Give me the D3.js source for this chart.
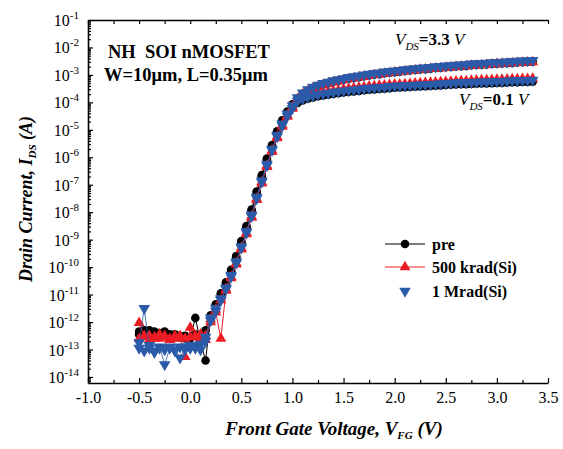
<!DOCTYPE html>
<html>
<head>
<meta charset="utf-8">
<script src="https://cdn.jsdelivr.net/npm/d3@7"></script>
<style>
  body { margin: 0; background: #fff; }
</style>
</head>
<body>
<div id="chart"></div>
<script>
// gate sweep (V)
var vg = [-0.5,-0.45,-0.4,-0.35,-0.3,-0.25,-0.2,-0.15,-0.1,-0.05,
  0.0,0.05,0.1,0.15,0.2,0.25,0.3,0.35,0.4,0.45,
  0.5,0.55,0.6,0.65,0.7,0.75,0.8,0.85,0.9,0.95,
  1.0,1.05,1.1,1.15,1.2,1.25,1.3,1.35,1.4,1.45,
  1.5,1.55,1.6,1.65,1.7,1.75,1.8,1.85,1.9,1.95,
  2.0,2.05,2.1,2.15,2.2,2.25,2.3,2.35,2.4,2.45,
  2.5,2.55,2.6,2.65,2.7,2.75,2.8,2.85,2.9,2.95,
  3.0,3.05,3.1,3.15,3.2,3.25,3.3,3.35];

// log10 of drain current (A), Lin = VDS 0.1 V, Sat = VDS 3.3 V
var preLin = [-12.35,-12.5,-12.3,-12.45,-12.4,-12.35,-12.5,-12.45,-12.55,-12.5,
  -12.6,-11.85,-12.7,-13.4,-11.8,-11.4,-11.0,-10.6,-10.15,-9.65,
  -9.1,-8.55,-7.95,-7.3,-6.7,-6.1,-5.6,-5.1,-4.72,-4.4,
  -4.15,-4.02,-3.93,-3.87,-3.82,-3.78,-3.75,-3.72,-3.69,-3.67,
  -3.64,-3.62,-3.60,-3.58,-3.56,-3.54,-3.53,-3.51,-3.50,-3.48,
  -3.47,-3.46,-3.45,-3.44,-3.43,-3.42,-3.41,-3.40,-3.39,-3.38,
  -3.37,-3.36,-3.35,-3.34,-3.34,-3.33,-3.32,-3.31,-3.31,-3.30,
  -3.29,-3.29,-3.28,-3.27,-3.27,-3.26,-3.26,-3.25];
var preSat = [-12.45,-12.3,-12.4,-12.35,-12.5,-12.4,-12.45,-12.55,-12.5,-12.6,
  -12.55,-12.45,-12.6,-12.3,-11.75,-11.35,-10.95,-10.55,-10.1,-9.6,
  -9.05,-8.5,-7.9,-7.25,-6.65,-6.05,-5.55,-5.05,-4.65,-4.33,
  -4.07,-3.87,-3.69,-3.57,-3.48,-3.41,-3.35,-3.30,-3.25,-3.21,
  -3.17,-3.14,-3.11,-3.08,-3.05,-3.02,-2.99,-2.97,-2.94,-2.92,
  -2.90,-2.88,-2.86,-2.84,-2.82,-2.80,-2.79,-2.77,-2.75,-2.74,
  -2.72,-2.71,-2.69,-2.68,-2.67,-2.65,-2.64,-2.63,-2.62,-2.60,
  -2.59,-2.58,-2.57,-2.56,-2.55,-2.54,-2.53,-2.52];
var k500Lin = [-12.03,-12.55,-12.5,-12.6,-12.45,-12.55,-12.6,-12.5,-12.55,-13.27,
  -12.2,-12.55,-12.6,-12.65,-12.0,-11.65,-12.6,-10.85,-10.4,-9.9,
  -9.35,-8.8,-8.2,-7.55,-6.95,-6.35,-5.8,-5.3,-4.88,-4.52,
  -4.23,-3.89,-3.81,-3.75,-3.70,-3.66,-3.63,-3.60,-3.57,-3.55,
  -3.52,-3.50,-3.48,-3.46,-3.44,-3.42,-3.41,-3.39,-3.38,-3.36,
  -3.35,-3.34,-3.33,-3.32,-3.31,-3.30,-3.29,-3.28,-3.27,-3.26,
  -3.25,-3.24,-3.23,-3.22,-3.22,-3.21,-3.20,-3.19,-3.19,-3.18,
  -3.17,-3.17,-3.16,-3.15,-3.15,-3.14,-3.14,-3.13];
var k500Sat = [-12.6,-12.5,-12.65,-12.55,-12.6,-12.5,-12.65,-12.6,-12.5,-12.6,
  -12.55,-12.5,-12.45,-12.5,-11.9,-11.55,-11.2,-10.8,-10.35,-9.85,
  -9.3,-8.75,-8.15,-7.5,-6.9,-6.3,-5.75,-5.25,-4.83,-4.47,
  -4.17,-3.89,-3.71,-3.59,-3.50,-3.43,-3.37,-3.32,-3.27,-3.23,
  -3.19,-3.15,-3.12,-3.09,-3.06,-3.03,-3.00,-2.98,-2.95,-2.93,
  -2.91,-2.89,-2.87,-2.85,-2.83,-2.81,-2.80,-2.78,-2.76,-2.75,
  -2.73,-2.72,-2.70,-2.69,-2.68,-2.66,-2.65,-2.64,-2.63,-2.61,
  -2.60,-2.59,-2.58,-2.57,-2.56,-2.55,-2.54,-2.53];
var m1Lin = [-12.75,-11.5,-12.95,-13.05,-12.9,-13.55,-12.95,-13.0,-13.3,-12.9,
  -12.95,-12.85,-13.0,-12.7,-11.95,-11.6,-11.2,-10.8,-10.35,-9.85,
  -9.3,-8.75,-8.15,-7.5,-6.9,-6.3,-5.75,-5.25,-4.85,-4.5,
  -4.22,-3.95,-3.87,-3.81,-3.76,-3.72,-3.69,-3.66,-3.63,-3.61,
  -3.58,-3.56,-3.54,-3.52,-3.50,-3.48,-3.47,-3.45,-3.44,-3.42,
  -3.41,-3.40,-3.39,-3.38,-3.37,-3.36,-3.35,-3.34,-3.33,-3.32,
  -3.31,-3.30,-3.29,-3.28,-3.28,-3.27,-3.26,-3.25,-3.25,-3.24,
  -3.23,-3.23,-3.22,-3.21,-3.21,-3.20,-3.20,-3.19];
var m1Sat = [-12.95,-13.05,-12.85,-13.1,-12.95,-13.0,-12.9,-13.05,-12.9,-13.0,
  -12.85,-12.95,-12.8,-12.55,-11.85,-11.5,-11.15,-10.75,-10.3,-9.8,
  -9.25,-8.7,-8.1,-7.45,-6.85,-6.25,-5.7,-5.2,-4.78,-4.42,
  -4.12,-3.83,-3.65,-3.53,-3.44,-3.37,-3.31,-3.26,-3.21,-3.17,
  -3.13,-3.09,-3.06,-3.03,-3.00,-2.97,-2.94,-2.92,-2.89,-2.87,
  -2.85,-2.83,-2.81,-2.79,-2.77,-2.75,-2.74,-2.72,-2.70,-2.69,
  -2.67,-2.66,-2.64,-2.63,-2.62,-2.60,-2.59,-2.58,-2.57,-2.55,
  -2.54,-2.53,-2.52,-2.51,-2.50,-2.49,-2.48,-2.47];

var xTicks = [-1.0,-0.5,0.0,0.5,1.0,1.5,2.0,2.5,3.0,3.5];
var xMinor = [-0.75,-0.25,0.25,0.75,1.25,1.75,2.25,2.75,3.25];
var yDecades = [-14,-13,-12,-11,-10,-9,-8,-7,-6,-5,-4,-3,-2,-1];

var legendNames = ["pre", "500 krad(Si)", "1 Mrad(Si)"];
var colors = ["#000000", "#ec1c24", "#2b5aa8"];
var FONT = "'Liberation Serif', 'Times New Roman', Times, 'DejaVu Serif', serif";

var W = 563, H = 449;
var svg = d3.select("#chart").append("svg")
  .attr("width", W).attr("height", H);

var x = d3.scaleLinear().domain([-1, 3.5]).range([88, 548]);
var y = d3.scaleLog().domain([Math.pow(10, -14.22), 0.1]).range([383, 20]);

var series = [
  {lin: preLin, sat: preSat, c: 0, sym: "circle"},
  {lin: k500Lin, sat: k500Sat, c: 1, sym: "up"},
  {lin: m1Lin, sat: m1Sat, c: 2, sym: "down"}
];

function marker(g, s, px, py) {
  if (s.sym == "circle") {
    g.append("circle").attr("cx", px).attr("cy", py).attr("r", 4.3)
      .attr("fill", colors[s.c]);
  } else {
    var rot = s.sym == "down" ? 180 : 0;
    g.append("path")
      .attr("d", d3.symbol().type(d3.symbolTriangle).size(s.sym == "down" ? 58 : 52)())
      .attr("transform", "translate(" + px + "," + py + ") rotate(" + rot + ")")
      .attr("fill", colors[s.c]);
  }
}

var line = d3.line()
  .x(function(d) { return x(d[0]); })
  .y(function(d) { return y(Math.pow(10, d[1])); });

var plot = svg.append("g");
series.forEach(function(s) {
  [s.lin, s.sat].forEach(function(arr) {
    var pts = vg.map(function(v, i) { return [v, arr[i]]; });
    plot.append("path").attr("d", line(pts))
      .attr("fill", "none").attr("stroke", colors[s.c])
      .attr("stroke-width", s.c == 2 ? 0.8 : 1);
    var mg = plot.append("g");
    pts.forEach(function(p) {
      marker(mg, s, x(p[0]), y(Math.pow(10, p[1])));
    });
  });
});

// axes
function styleAxis(g) {
  g.select(".domain").attr("stroke", "#000").attr("stroke-width", 1.6);
  g.selectAll(".tick line").attr("stroke", "#000").attr("stroke-width", 1.2);
}

var xAxis = svg.append("g").attr("transform", "translate(0,383)")
  .call(d3.axisBottom(x).tickValues(xTicks).tickSize(-5).tickSizeOuter(0)
    .tickPadding(9).tickFormat(function(d) { return d.toFixed(1); }));
styleAxis(xAxis);
xAxis.attr("font-family", null);
xAxis.selectAll("text").attr("font-size", 16).attr("fill", "#000");

var xAxisMinor = svg.append("g").attr("transform", "translate(0,383)")
  .call(d3.axisBottom(x).tickValues(xMinor).tickSize(-3).tickFormat(""));
xAxisMinor.select(".domain").remove();
styleAxis(xAxisMinor);

var topAxis = svg.append("g").attr("transform", "translate(0,20)")
  .call(d3.axisTop(x).tickValues(xTicks.concat(xMinor)).tickSize(-4)
    .tickSizeOuter(0).tickFormat(""));
styleAxis(topAxis);

var yAxis = svg.append("g").attr("transform", "translate(88,0)")
  .call(d3.axisLeft(y).tickValues(yDecades.map(function(k) { return Math.pow(10, k); }))
    .tickSize(-5).tickSizeOuter(0).tickFormat(""));
styleAxis(yAxis);

var yMinorVals = [];
for (var k = -15; k <= -2; k++) {
  for (var m = 2; m <= 9; m++) {
    var v = m * Math.pow(10, k);
    if (v > y.domain()[0] && v < y.domain()[1]) yMinorVals.push(v);
  }
}
var yAxisMinor = svg.append("g").attr("transform", "translate(88,0)")
  .call(d3.axisLeft(y).tickValues(yMinorVals).tickSize(-3).tickFormat(""));
yAxisMinor.select(".domain").remove();
styleAxis(yAxisMinor);

yDecades.forEach(function(k) {
  var t = svg.append("text")
    .attr("x", 79).attr("y", y(Math.pow(10, k)) + 6)
    .attr("text-anchor", "end").attr("font-size", 16);
  t.append("tspan").text("10");
  t.append("tspan").attr("dy", -7).attr("font-size", 11).text(String(k));
});

// axis titles
var yt = svg.append("text")
  .attr("transform", "translate(32,199) rotate(-90)")
  .attr("text-anchor", "middle").attr("font-size", 18)
  .attr("font-weight", "bold").attr("font-style", "italic");
yt.append("tspan").text("Drain Current, I");
yt.append("tspan").attr("font-size", 11).attr("dy", 4).text("DS");
yt.append("tspan").attr("dy", -4).text(" (A)");

var xt = svg.append("text")
  .attr("x", 334).attr("y", 435)
  .attr("text-anchor", "middle").attr("font-size", 19)
  .attr("font-weight", "bold").attr("font-style", "italic");
xt.append("tspan").text("Front Gate Voltage, V");
xt.append("tspan").attr("font-size", 11).attr("dy", 4).text("FG");
xt.append("tspan").attr("dy", -4).text(" (V)");

// device annotation
svg.append("text").attr("x", 108).attr("y", 58)
  .attr("font-size", 18.5).attr("font-weight", "bold")
  .attr("xml:space", "preserve").style("white-space", "pre").text("NH  SOI nMOSFET");
svg.append("text").attr("x", 104).attr("y", 81)
  .attr("font-size", 18.5).attr("font-weight", "bold")
  .text("W=10\u03bcm, L=0.35\u03bcm");

function vdsLabel(px, py, val) {
  var t = svg.append("text").attr("x", px).attr("y", py).attr("font-size", 17);
  t.append("tspan").attr("font-style", "italic").text("V");
  t.append("tspan").attr("font-style", "italic").attr("font-size", 11)
    .attr("dy", 5).text("DS");
  t.append("tspan").attr("dy", -5).attr("font-weight", "bold").text("=" + val + " ");
  t.append("tspan").attr("font-style", "italic").text("V");
}
vdsLabel(395, 45, "3.3");
vdsLabel(459, 105, "0.1");

// legend
var legY = [244, 267, 291];
series.forEach(function(s, i) {
  var g = svg.append("g");
  if (i < 2) {
    g.append("line").attr("x1", 385).attr("x2", 425)
      .attr("y1", legY[i]).attr("y2", legY[i])
      .attr("stroke", colors[s.c]).attr("stroke-width", 1);
  }
  marker(g, s, 405, legY[i]);
  g.append("text").attr("x", 432).attr("y", legY[i] + 5.5)
    .attr("font-size", 16).attr("font-weight", "bold").text(legendNames[i]);
});

svg.selectAll("text").style("font-family", FONT);
</script>
</body>
</html>
